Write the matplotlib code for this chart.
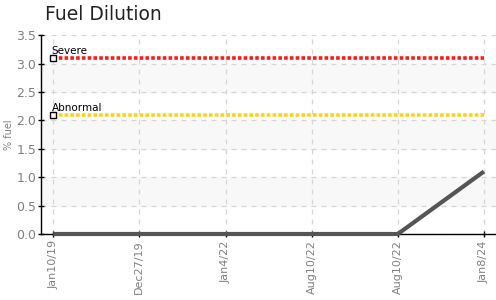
import matplotlib.pyplot as plt

dates = ['Jan10/19', 'Dec27/19', 'Jan4/22', 'Aug10/22', 'Aug10/22', 'Jan8/24']
fuel = [0.0, 0.0, 0.0, 0.0, 0.0, 1.1]
severe_level = 3.1
abnormal_level = 2.1
yticks = [0.0, 0.5, 1.0, 1.5, 2.0, 2.5, 3.0, 3.5]
bands = [(0.5, 1.0), (1.5, 2.0), (2.5, 3.0)]

x = list(range(len(dates)))

fig = plt.figure(figsize=(4.96, 3.0), dpi=100)
ax = fig.add_axes([0.083, 0.22, 0.917, 0.663])

for lo, hi in bands:
    ax.axhspan(lo, hi, color='#f8f8f8', zorder=0)

ax.grid(True, color='#d6d6d6', linestyle=(0, (4, 4)), linewidth=0.9, zorder=1)

ax.plot(x, [severe_level] * len(x), color='#ff1a1a', linestyle=(0, (1, 0.6)), linewidth=2.6, zorder=3)
ax.plot(x, [abnormal_level] * len(x), color='#ffd21a', linestyle=(0, (1, 0.6)), linewidth=2.6, zorder=3)
ax.plot([x[0]], [severe_level], marker='s', markersize=4.5, markerfacecolor='white',
        markeredgecolor='black', markeredgewidth=1, zorder=4)
ax.plot([x[0]], [abnormal_level], marker='s', markersize=4.5, markerfacecolor='white',
        markeredgecolor='black', markeredgewidth=1, zorder=4)
ax.text(x[0] - 0.02, severe_level + 0.07, 'Severe', fontsize=7.5, color='black', zorder=5)
ax.text(x[0] - 0.02, abnormal_level + 0.07, 'Abnormal', fontsize=7.5, color='black', zorder=5)

ax.plot(x, fuel, color='#555555', linewidth=3, solid_capstyle='butt', zorder=5, clip_on=False)

ax.set_xlim(-0.14, 5.14)
ax.set_ylim(0, 3.5)
ax.set_yticks(yticks)
ax.set_yticklabels([f'{v:.1f}' for v in yticks])
ax.set_xticks(x)
ax.set_xticklabels(dates, rotation=90)

for s in ['top', 'right']:
    ax.spines[s].set_visible(False)
for s in ['left', 'bottom']:
    ax.spines[s].set_color('black')
    ax.spines[s].set_linewidth(1)

ax.tick_params(axis='y', direction='inout', length=5, width=1, colors='black',
               labelcolor='#808080', labelsize=9, pad=1)
ax.tick_params(axis='x', direction='inout', length=5, width=1, colors='black',
               labelcolor='#808080', labelsize=8, pad=2)
ax.set_ylabel('% fuel', fontsize=7, color='#808080', labelpad=2)

fig.text(0.091, 0.953, 'Fuel Dilution', fontsize=13.5, color='#222222', va='center')

fig.savefig('out.png', dpi=100)
